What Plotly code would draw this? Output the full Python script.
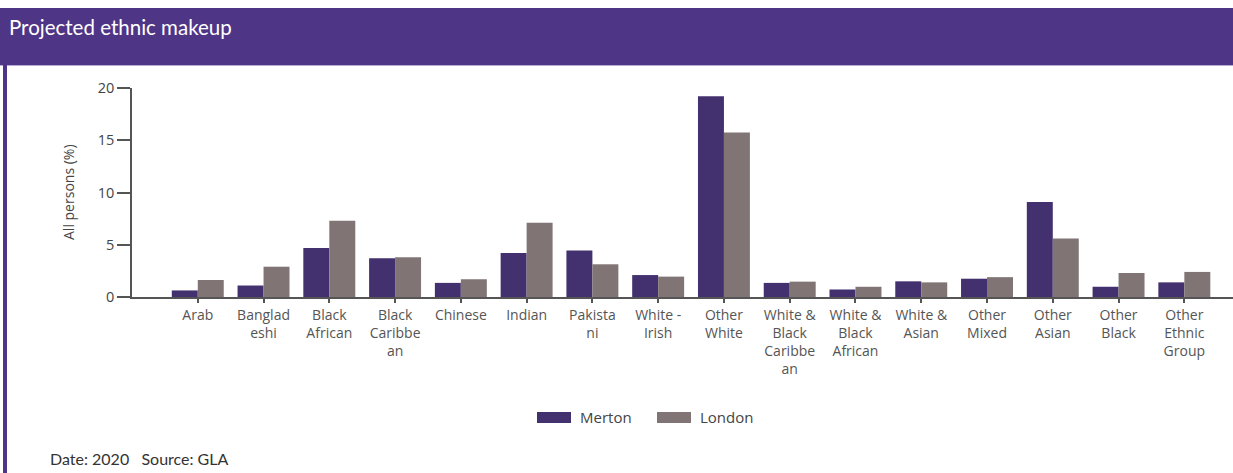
import plotly.graph_objects as go

# Projected ethnic makeup, Merton vs London (% of all persons)
categories = [
    "Arab", "Banglad<br>eshi", "Black<br>African", "Black<br>Caribbe<br>an",
    "Chinese", "Indian", "Pakista<br>ni", "White -<br>Irish", "Other<br>White",
    "White &<br>Black<br>Caribbe<br>an", "White &<br>Black<br>African",
    "White &<br>Asian", "Other<br>Mixed", "Other<br>Asian", "Other<br>Black",
    "Other<br>Ethnic<br>Group",
]
merton = [0.63, 1.1, 4.7, 3.7, 1.35, 4.2, 4.45, 2.1, 19.2, 1.35, 0.72, 1.5, 1.75, 9.1, 0.98, 1.4]
london = [1.63, 2.9, 7.3, 3.8, 1.7, 7.1, 3.13, 1.95, 15.75, 1.47, 0.98, 1.4, 1.9, 5.6, 2.3, 2.4]
y_ticks = [0, 5, 10, 15, 20]

MERTON_COLOR = "#43306f"
LONDON_COLOR = "#807574"
HEADER_COLOR = "#4f3586"
FONT = "Lato"
AXIS_FONT = "Open Sans"

W, H = 1233, 473
ML, MR, MT, MB = 132, 0, 88, 176


def px(x):
    """Pixel x -> paper x."""
    return (x - ML) / (W - ML - MR)


def py(y):
    """Pixel y (from top) -> paper y."""
    return (H - MB - y) / (H - MT - MB)


fig = go.Figure()
fig.add_trace(go.Bar(x=list(range(len(categories))), y=merton, name="Merton",
                     marker=dict(color=MERTON_COLOR, line=dict(width=0))))
fig.add_trace(go.Bar(x=list(range(len(categories))), y=london, name="London",
                     marker=dict(color=LONDON_COLOR, line=dict(width=0))))

shapes = [
    # header band
    dict(type="rect", xref="paper", yref="paper", x0=px(0), x1=px(W), y0=py(65), y1=py(8),
         fillcolor=HEADER_COLOR, line=dict(width=0), layer="above"),
    dict(type="line", xref="paper", yref="paper", x0=px(0), x1=px(W), y0=py(65.5), y1=py(65.5),
         line=dict(color="#b9acd4", width=1)),
    # left border
    dict(type="rect", xref="paper", yref="paper", x0=px(3), x1=px(7), y0=py(H), y1=py(65),
         fillcolor=HEADER_COLOR, line=dict(width=0)),
    # legend swatches
    dict(type="rect", xref="paper", yref="paper", x0=px(537), x1=px(571), y0=py(423), y1=py(412),
         fillcolor=MERTON_COLOR, line=dict(width=0)),
    dict(type="rect", xref="paper", yref="paper", x0=px(657), x1=px(691), y0=py(423), y1=py(412),
         fillcolor=LONDON_COLOR, line=dict(width=0)),
]

annotations = [
    dict(text="Projected ethnic makeup", xref="paper", yref="paper", x=px(7), y=py(27),
         xanchor="left", yanchor="middle", showarrow=False,
         font=dict(family=FONT, size=20.5, color="white")),
    dict(text="All persons (%)", xref="paper", yref="paper", x=px(68), y=py(192),
         xanchor="center", yanchor="middle", textangle=-90, showarrow=False,
         font=dict(family=AXIS_FONT, size=14, color="#444444")),
    dict(text="Merton", xref="paper", yref="paper", x=px(578), y=py(417),
         xanchor="left", yanchor="middle", showarrow=False,
         font=dict(family=AXIS_FONT, size=15, color="#444444")),
    dict(text="London", xref="paper", yref="paper", x=px(698), y=py(417),
         xanchor="left", yanchor="middle", showarrow=False,
         font=dict(family=AXIS_FONT, size=15, color="#444444")),
    dict(text="Date: 2020&nbsp;&nbsp;&nbsp;Source: GLA", xref="paper", yref="paper",
         x=px(48), y=py(458), xanchor="left", yanchor="middle", showarrow=False,
         font=dict(family=FONT, size=16, color="#333333")),
]

fig.update_layout(
    width=W, height=H,
    margin=dict(l=ML, r=MR, t=MT, b=MB, pad=0),
    paper_bgcolor="white", plot_bgcolor="white",
    barmode="group", bargap=0.21, bargroupgap=0,
    showlegend=False,
    shapes=shapes, annotations=annotations,
    font=dict(family=AXIS_FONT, color="#555555"),
)
fig.update_xaxes(
    range=[-1, 15.74], tickmode="array", tickvals=list(range(len(categories))),
    ticktext=categories, tickangle=0, showgrid=False, zeroline=False,
    showline=True, linecolor="#555555", linewidth=1.5,
    ticks="outside", ticklen=4, tickcolor="#555555", tickwidth=1.5,
    tickfont=dict(family=AXIS_FONT, size=14, color="#555555"),
)
fig.update_yaxes(
    range=[0, 20], tickmode="array", tickvals=y_ticks, showgrid=False, zeroline=False,
    showline=True, linecolor="#555555", linewidth=1.5,
    ticks="outside", ticklen=13, tickcolor="#555555", tickwidth=1.5,
    tickfont=dict(family=AXIS_FONT, size=14.5, color="#444444"),
)

fig.write_html("out.html")
